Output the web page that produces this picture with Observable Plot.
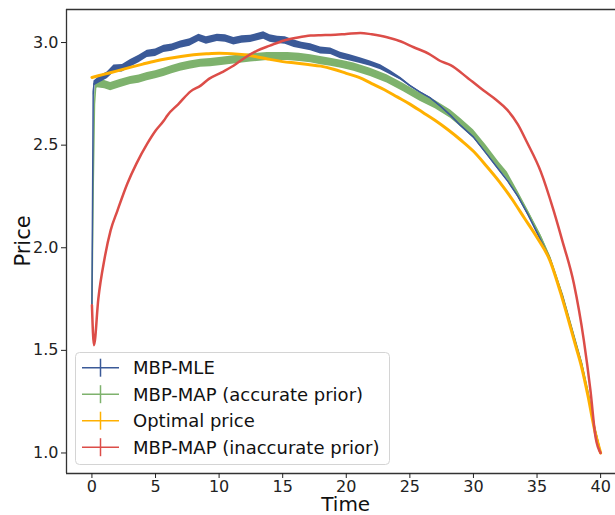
<!DOCTYPE html>
<html><head><meta charset="utf-8">
<script src="https://cdn.jsdelivr.net/npm/d3@7"></script>
<script src="https://cdn.jsdelivr.net/npm/@observablehq/plot@0.6"></script>
<style>body{margin:0;background:#fff} svg{display:block}</style>
</head><body><div id="chart"></div>
<script>
// ---- data ----
const seriesNames = ["MBP-MLE", "MBP-MAP (accurate prior)", "Optimal price", "MBP-MAP (inaccurate prior)"];
const seriesColors = ["#3B5A98", "#7EB26D", "#FFB000", "#DC4D48"];
const xTicks = [0, 5, 10, 15, 20, 25, 30, 35, 40];
const yTicks = [1.0, 1.5, 2.0, 2.5, 3.0];
const xDomain = [-2, 41.17];
const yDomain = [0.9, 3.161];

// [time, price, error half-width]
const mle = [[0,1.72,0.005],[0.1,2.75,0.01],[0.16,2.80,0.012],[0.68,2.823,0.016],[1.2,2.84,0.017],[1.73,2.872,0.018],[2.4,2.875,0.018],[3.04,2.899,0.018],[3.7,2.92,0.018],[4.35,2.945,0.018],[5.0,2.95,0.018],[5.66,2.969,0.018],[6.3,2.975,0.018],[6.97,2.99,0.018],[7.7,3.0,0.018],[8.41,3.023,0.018],[9.0,3.01,0.018],[9.86,3.023,0.018],[10.5,3.02,0.018],[11.16,3.006,0.018],[11.8,3.015,0.018],[12.48,3.018,0.018],[13.5,3.034,0.018],[14.0,3.02,0.018],[14.6,3.013,0.018],[15.2,3.01,0.018],[15.9,2.994,0.018],[16.5,2.985,0.017],[17.2,2.977,0.017],[17.98,2.961,0.017],[18.77,2.958,0.016],[19.55,2.937,0.016],[20.3,2.925,0.015],[21.1,2.912,0.014],[21.9,2.897,0.013],[22.7,2.88,0.012],[23.5,2.852,0.01],[24.3,2.823,0.007],[25.0,2.79,0.004],[25.8,2.758,0.003],[26.6,2.73,0.003],[27.4,2.69,0.003],[28.2,2.645,0.003],[29.0,2.595,0.003],[30.0,2.539,0.003],[31.0,2.46,0.003],[32.0,2.38,0.003],[32.66,2.328,0.003],[33.5,2.25,0.003],[34.3,2.16,0.003],[35.3,2.036,0.003],[36,1.95,0.003],[37,1.765,0.003],[38,1.545,0.003],[38.5,1.435,0.003],[39,1.29,0.003],[39.5,1.13,0.002],[40,1.0,0.002]];

const mapAccurate = [[0,1.72,0.005],[0.1,2.3,0.01],[0.2,2.7,0.015],[0.3,2.79,0.02],[0.42,2.80,0.02],[1.0,2.795,0.02],[1.47,2.785,0.02],[2.2,2.80,0.02],[3.04,2.815,0.02],[3.7,2.822,0.02],[4.35,2.834,0.02],[5.0,2.843,0.02],[5.66,2.855,0.02],[6.3,2.868,0.02],[6.97,2.88,0.02],[7.7,2.89,0.02],[8.55,2.899,0.02],[9.33,2.902,0.02],[10.2,2.908,0.02],[11.16,2.916,0.02],[12.5,2.925,0.02],[13.8,2.932,0.02],[15.4,2.932,0.02],[16.3,2.928,0.02],[17.2,2.921,0.02],[17.98,2.912,0.02],[18.77,2.904,0.02],[19.7,2.893,0.02],[20.6,2.88,0.02],[21.9,2.855,0.02],[23.2,2.823,0.02],[24.5,2.78,0.02],[25.8,2.734,0.02],[27.0,2.697,0.02],[28.2,2.651,0.02],[29.0,2.61,0.02],[30.0,2.555,0.02],[31.0,2.48,0.019],[32.0,2.40,0.018],[32.66,2.352,0.017],[33.5,2.26,0.015],[34.3,2.17,0.013],[35.3,2.052,0.011],[36,1.955,0.009],[37,1.77,0.007],[38,1.55,0.005],[38.5,1.44,0.004],[39,1.3,0.003],[39.5,1.13,0.002],[40,1.0,0.002]];

const optimal = [[0,2.83],[1,2.846],[2,2.862],[3,2.879],[4,2.895],[5,2.91],[6,2.922],[7,2.932],[8,2.94],[9,2.945],[10,2.948],[11,2.946],[12,2.94],[13,2.93],[14,2.918],[15,2.907],[16,2.9],[17,2.893],[18,2.885],[19,2.87],[20,2.85],[21,2.83],[22,2.8],[23,2.77],[24,2.735],[25,2.7],[26,2.66],[27,2.62],[28,2.575],[29,2.525],[30,2.47],[31,2.4],[32,2.325],[33,2.24],[34,2.145],[35,2.05],[36,1.94],[37,1.75],[38,1.53],[38.5,1.42],[39,1.28],[39.5,1.12],[40,1.0]];

const mapInaccurate = [[0,1.72],[0.16,1.525],[0.5,1.75],[1.0,1.95],[1.47,2.085],[2.0,2.18],[2.78,2.312],[3.5,2.41],[4.35,2.507],[5.0,2.57],[5.66,2.62],[5.93,2.645],[6.8,2.70],[7.76,2.762],[8.55,2.79],[9.2,2.823],[10.2,2.855],[11.16,2.888],[12.0,2.925],[13.0,2.961],[14.0,2.985],[15.1,3.01],[16.2,3.025],[17.2,3.034],[18.0,3.036],[18.77,3.037],[20.0,3.042],[21.1,3.047],[22.0,3.04],[23.2,3.026],[24.3,3.005],[25.3,2.977],[26.5,2.945],[27.4,2.91],[28.2,2.89],[29.5,2.83],[30.8,2.766],[31.8,2.72],[32.66,2.672],[33.5,2.6],[34.2,2.515],[35.3,2.37],[36.3,2.182],[36.98,2.036],[37.9,1.825],[38.68,1.549],[39.2,1.305],[39.6,1.078],[40,1.0]];

// ---- build rows ----
const rows = arr => arr.map(([t, v, e]) => ({t, v, e: e ?? 0}));
const mleRows = rows(mle), mapRows = rows(mapAccurate), optRows = rows(optimal), badRows = rows(mapInaccurate);

const FONT = "DejaVu Sans";
const chart = Plot.plot({
  width: 615, height: 515,
  marginLeft: 66, marginRight: 0, marginTop: 9, marginBottom: 42,
  x: {domain: xDomain},
  y: {domain: yDomain},
  style: {fontFamily: FONT, fontSize: "16px", background: "#fff", color: "#222"},
  marks: [
    Plot.areaY(mapRows, {x: "t", y1: d => d.v - d.e, y2: d => d.v + d.e, fill: seriesColors[1]}),
    Plot.line(mapRows, {x: "t", y: "v", stroke: seriesColors[1], strokeWidth: 1.5}),
    Plot.areaY(mleRows, {x: "t", y1: d => d.v - d.e, y2: d => d.v + d.e, fill: seriesColors[0]}),
    Plot.line(mleRows, {x: "t", y: "v", stroke: seriesColors[0], strokeWidth: 1.5}),
    Plot.line(optRows, {x: "t", y: "v", stroke: seriesColors[2], strokeWidth: 3, curve: "monotone-x"}),
    Plot.line(badRows, {x: "t", y: "v", stroke: seriesColors[3], strokeWidth: 2.5, curve: "monotone-x"}),
    Plot.ruleX([xDomain[0]], {stroke: "#333", strokeWidth: 1.3}),
    Plot.ruleY(yDomain, {stroke: "#333", strokeWidth: 1.3}),
    Plot.axisX({ticks: xTicks, tickSize: 5, tickPadding: 2, label: null, fontSize: 16}),
    Plot.axisY({ticks: yTicks, tickSize: 5, tickPadding: 3, tickFormat: d => d.toFixed(1), label: null, fontSize: 16})
  ]
});
document.getElementById("chart").appendChild(chart);

// ---- axis titles & legend ----
const svg = d3.select(chart);
svg.append("text").attr("x", 345.7).attr("y", 511).attr("text-anchor", "middle")
  .attr("font-family", FONT).attr("font-size", 20).attr("fill", "#111").text("Time");
svg.append("text").attr("transform", "translate(30,241) rotate(-90)").attr("text-anchor", "middle")
  .attr("font-family", FONT).attr("font-size", 21).attr("fill", "#111").text("Price");

const lg = svg.append("g");
lg.append("rect").attr("x", 75.5).attr("y", 352.5).attr("width", 314).attr("height", 112).attr("rx", 4)
  .attr("fill", "#fff").attr("fill-opacity", 0.8).attr("stroke", "#d4d4d4");
seriesNames.forEach((name, i) => {
  const y = 367.7 + i * 26.5;
  lg.append("line").attr("x1", 82).attr("x2", 119).attr("y1", y).attr("y2", y)
    .attr("stroke", seriesColors[i]).attr("stroke-width", 1.5);
  lg.append("line").attr("x1", 100.5).attr("x2", 100.5).attr("y1", y - 9).attr("y2", y + 9)
    .attr("stroke", seriesColors[i]).attr("stroke-width", 1.5);
  lg.append("text").attr("x", 133).attr("y", y).attr("dy", "0.35em").attr("text-anchor", "start")
    .attr("font-family", FONT).attr("font-size", 18).attr("fill", "#111").text(name);
});
</script>
</body></html>
